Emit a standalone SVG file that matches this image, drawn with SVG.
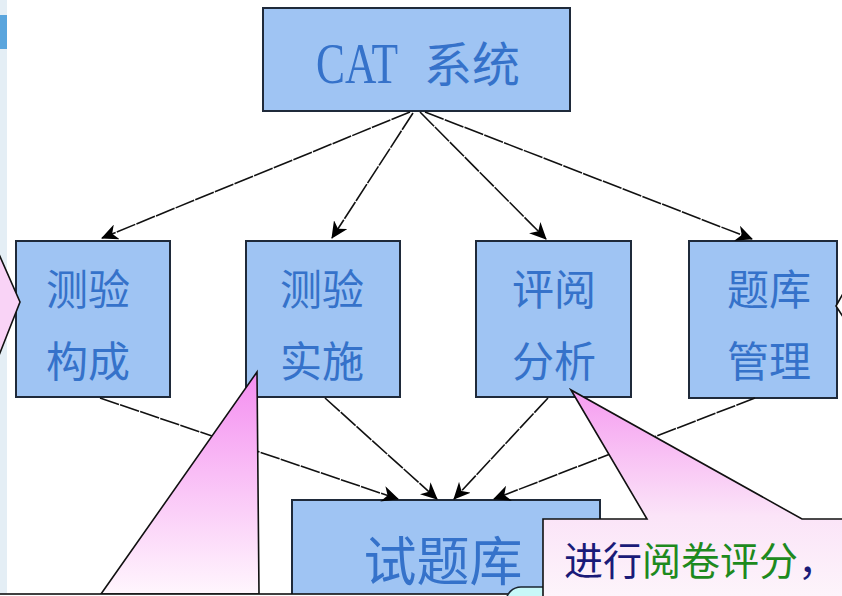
<svg xmlns="http://www.w3.org/2000/svg" width="842" height="596" viewBox="0 0 842 596">
<style>
.box{fill:#9fc4f3;stroke:#1f2a3a;stroke-width:2}
.lbl{font-family:"Noto Sans CJK SC","Noto Sans",sans-serif;fill:#3572ca;text-anchor:middle}
.conn{stroke:#111;stroke-width:1.6;fill:none;stroke-dasharray:20 1.2}
.call{stroke:#111;stroke-width:1.6}
</style>
<defs>
<marker id="ah" markerUnits="userSpaceOnUse" markerWidth="18" markerHeight="16" refX="16" refY="8" orient="auto">
<path d="M0,0 L17,8 L0,16 L5,8 z" fill="#000"/>
</marker>
<linearGradient id="g2" gradientUnits="userSpaceOnUse" x1="0" y1="372" x2="0" y2="594">
<stop offset="0" stop-color="#f48ef0"/>
<stop offset="1" stop-color="#fff6fd"/>
</linearGradient>
<linearGradient id="g3" gradientUnits="userSpaceOnUse" x1="0" y1="390" x2="0" y2="600">
<stop offset="0" stop-color="#f59cf0"/>
<stop offset="0.6" stop-color="#fbe4f8"/>
<stop offset="1" stop-color="#fdf5fb"/>
</linearGradient>
</defs>
<rect x="0" y="0" width="842" height="596" fill="#ffffff"/>
<rect x="0" y="0" width="7" height="596" fill="#e4eef5"/>
<rect x="0" y="15" width="7" height="34" fill="#5aa5dd"/>

<g id="cat">
<rect class="box" x="263" y="8" width="307" height="103"/>
<text x="316" y="83" font-family="Liberation Serif,serif" font-size="56" fill="#3572ca" textLength="82" lengthAdjust="spacingAndGlyphs">CAT</text>
<text x="424" y="82" font-family="Noto Sans CJK SC,sans-serif" font-size="48" fill="#3572ca">系统</text>
</g>
<g id="n1">
<rect class="box" x="16" y="241" width="154" height="156"/>
<text class="lbl" x="88" y="305" font-size="42">测验</text>
<text class="lbl" x="88" y="377" font-size="42">构成</text>
</g>
<g id="n2">
<rect class="box" x="246" y="241" width="154" height="156"/>
<text class="lbl" x="322" y="305" font-size="42">测验</text>
<text class="lbl" x="322" y="377" font-size="42">实施</text>
</g>
<g id="n3">
<rect class="box" x="476" y="241" width="155" height="156"/>
<text class="lbl" x="554" y="305" font-size="42">评阅</text>
<text class="lbl" x="554" y="377" font-size="42">分析</text>
</g>
<g id="n4">
<rect class="box" x="689" y="241" width="148" height="157"/>
<text class="lbl" x="769" y="305" font-size="42">题库</text>
<text class="lbl" x="769" y="377" font-size="42">管理</text>
</g>
<g id="bank">
<rect class="box" x="292" y="500" width="308" height="110"/>
<text class="lbl" x="443" y="581" font-size="53">试题库</text>
</g>

<g id="connectors">
<line class="conn" x1="410" y1="112" x2="102" y2="238" marker-end="url(#ah)"/>
<line class="conn" x1="413" y1="113" x2="332" y2="238" marker-end="url(#ah)"/>
<line class="conn" x1="420" y1="112" x2="546" y2="239" marker-end="url(#ah)"/>
<line class="conn" x1="425" y1="112" x2="752" y2="239" marker-end="url(#ah)"/>
<line class="conn" x1="100" y1="398" x2="398" y2="499" marker-end="url(#ah)"/>
<line class="conn" x1="325" y1="398" x2="437" y2="499" marker-end="url(#ah)"/>
<line class="conn" x1="548" y1="398" x2="454" y2="499" marker-end="url(#ah)"/>
<line class="conn" x1="755" y1="398" x2="494" y2="499" marker-end="url(#ah)"/>
</g>

<g id="callout-left">
<path class="call" d="M-2,252 L20,302 L-2,358 z" fill="#f9d3f6"/>
</g>
<g id="callout-right">
<path class="call" d="M845,290 L836,306 L845,320 z" fill="#ffffff"/>
</g>
<g id="callout-bottom-left">
<path class="call" d="M257,372 L101,594 L259,594 z" fill="url(#g2)"/>
<rect class="call" x="-5" y="594" width="552" height="20" fill="#ffffff"/>
</g>
<g id="cyan-shape">
<rect x="506" y="587" width="70" height="30" rx="15" fill="#c8f8f8" stroke="#1a2430" stroke-width="1.5"/>
</g>
<g id="callout-score">
<path class="call" d="M571,390 L647,519 L543,519 L543,604 L848,604 L848,519 L802,519 z" fill="url(#g3)"/>
<text x="564" y="575" font-family="Noto Sans CJK SC,sans-serif" font-size="39"><tspan fill="#1a1a78">进行</tspan><tspan fill="#1e8a1e">阅卷评分</tspan><tspan fill="#1a1a78">，</tspan></text>
</g>
</svg>
